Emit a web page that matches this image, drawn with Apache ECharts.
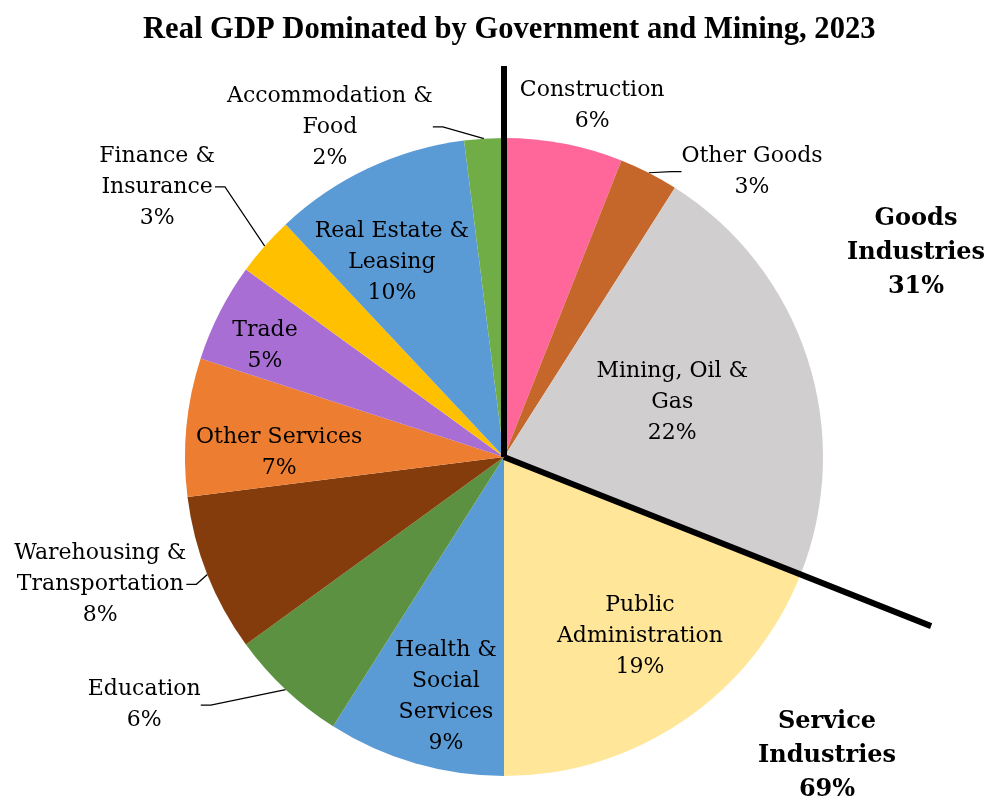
<!DOCTYPE html>
<html>
<head>
<meta charset="utf-8">
<script src="https://cdn.jsdelivr.net/npm/echarts@6/dist/echarts.min.js"></script>
<style>
  html, body { margin: 0; padding: 0; background: #fff; }
  #chart { width: 987px; height: 803px; }
</style>
</head>
<body>
<div id="chart"></div>
<script>
// industry shares of real GDP, clockwise from 12 o'clock
var industries = [
  'Construction', 'Other Goods', 'Mining, Oil &\nGas', 'Public\nAdministration',
  'Health &\nSocial\nServices', 'Education', 'Warehousing &\nTransportation',
  'Other Services', 'Trade', 'Finance &\nInsurance', 'Real Estate &\nLeasing',
  'Accommodation &\nFood'
];
var shares = [6, 3, 22, 19, 9, 6, 8, 7, 5, 3, 10, 2];
var goodsCount = 3; // first three slices are goods industries
var groupNames = ['Goods\nIndustries', 'Service\nIndustries'];

var colors = ['#FF6699', '#C5672A', '#D0CECE', '#FFE699', '#5B9BD5', '#5B9140',
  '#843C0C', '#ED7D31', '#A86ED4', '#FFC000', '#5B9BD5', '#70AD47'];

// label placement: [angle from 12 o'clock in degrees, distance as fraction of radius, outside?]
var labelPlace = [
  [14.1, 1.135, true], [41.0, 1.185, true], [71.9, 0.555, false], [142.8, 0.705, false],
  [193.6, 0.774, false], [235.4, 1.37, true], [252.5, 1.327, true], [271.0, 0.705, false],
  [294.9, 0.826, false], [307.9, 1.378, true], [330.1, 0.705, false], [332.2, 1.17, true]
];
var showLine = [false, true, false, false, false, true, true, false, false, true, false, true];

var CX = 504, CY = 457, R = 319;
var font = 'DejaVu Serif';

var total = shares.reduce(function (a, b) { return a + b; }, 0);
var goodsShare = 0;
for (var i = 0; i < goodsCount; i++) goodsShare += shares[i];

var chart = echarts.init(document.getElementById('chart'));

var data = industries.map(function (n, i) {
  return {
    name: n,
    value: shares[i],
    itemStyle: { color: colors[i] },
    label: { position: labelPlace[i][2] ? 'outside' : 'inside' },
    labelLine: { show: showLine[i] }
  };
});

function polar(angDeg, dist) {
  var a = angDeg * Math.PI / 180;
  return [CX + dist * Math.sin(a), CY - dist * Math.cos(a)];
}

var topEnd = polar(0, R * 1.226);
var splitEnd = polar(goodsShare / total * 360, R * 1.44);

var option = {
  backgroundColor: '#fff',
  title: {
    text: 'Real GDP Dominated by Government and Mining, 2023',
    left: 138,
    top: 10,
    textStyle: { fontFamily: 'Liberation Serif', fontWeight: 'bold', fontSize: 30.6, color: '#000' }
  },
  series: [{
    type: 'pie',
    center: [CX, CY],
    radius: R,
    startAngle: 90,
    clockwise: true,
    avoidLabelOverlap: false,
    silent: true,
    data: data,
    label: {
      show: true,
      formatter: function (p) { return p.name + '\n' + Math.round(p.percent) + '%'; },
      fontFamily: font,
      fontSize: 22,
      lineHeight: 31,
      color: '#000',
      align: 'center'
    },
    labelLine: {
      show: true,
      length: 10,
      length2: 10,
      lineStyle: { color: '#000', width: 1.2 }
    },
    labelLayout: function (p) {
      var pl = labelPlace[p.dataIndex];
      var pt = polar(pl[0], R * pl[1]);
      return { x: pt[0], y: pt[1], align: 'center', verticalAlign: 'middle' };
    }
  }],
  graphic: [
    {
      type: 'line', z: 100,
      shape: { x1: CX, y1: CY, x2: topEnd[0], y2: topEnd[1] },
      style: { stroke: '#000', lineWidth: 6 }
    },
    {
      type: 'line', z: 100,
      shape: { x1: CX, y1: CY, x2: splitEnd[0], y2: splitEnd[1] },
      style: { stroke: '#000', lineWidth: 6 }
    },
    {
      type: 'text', x: 916, y: 253, z: 100,
      style: {
        text: groupNames[0] + '\n' + goodsShare + '%',
        fontFamily: font, fontWeight: 'bold', fontSize: 24, lineHeight: 34,
        fill: '#000', align: 'center', verticalAlign: 'middle'
      }
    },
    {
      type: 'text', x: 827, y: 756, z: 100,
      style: {
        text: groupNames[1] + '\n' + (total - goodsShare) + '%',
        fontFamily: font, fontWeight: 'bold', fontSize: 24, lineHeight: 34,
        fill: '#000', align: 'center', verticalAlign: 'middle'
      }
    }
  ]
};

chart.setOption(option);
</script>
</body>
</html>
